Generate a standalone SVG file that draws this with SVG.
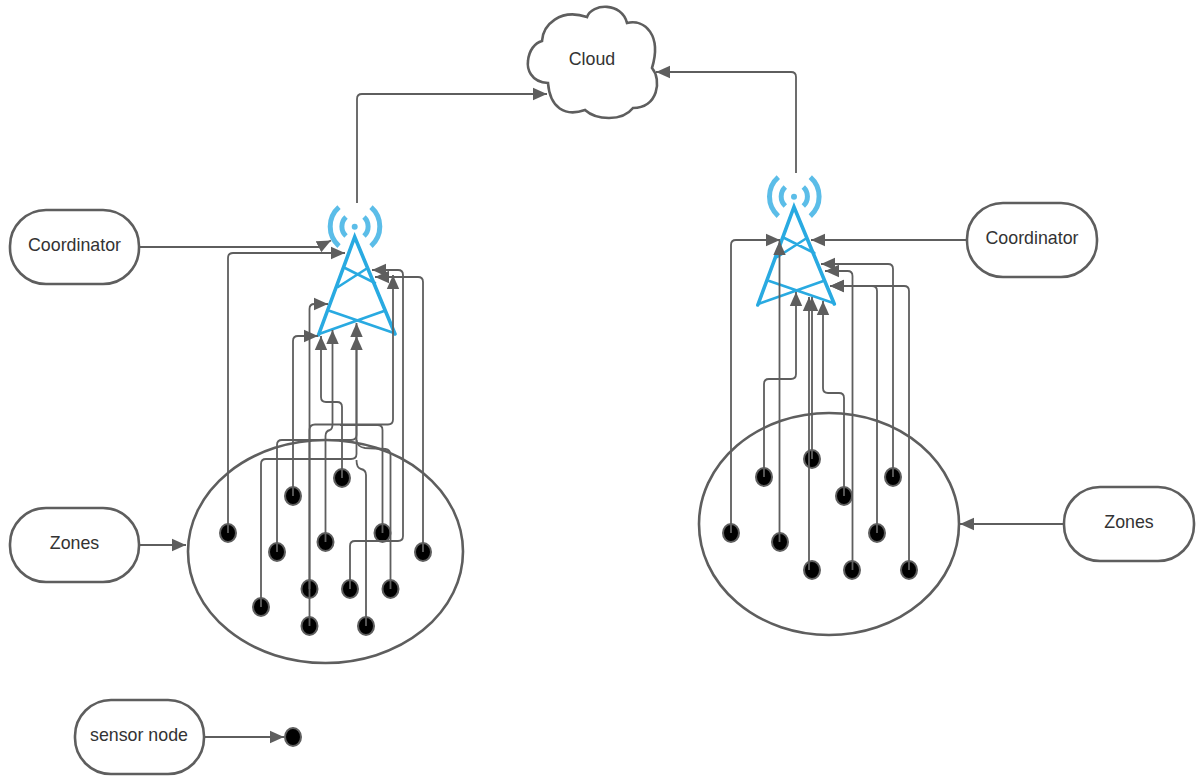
<svg xmlns="http://www.w3.org/2000/svg" width="1201" height="777" viewBox="0 0 1201 777">
<style>
.box,.zone,.cloud{fill:#fff;stroke:#5e5e5e;stroke-width:2.6}
.zone{fill:none}
.s{fill:#000;stroke:#5e5e5e;stroke-width:2}
.t{font-family:"Liberation Sans",Arial,sans-serif;font-size:17.8px;fill:#333;text-anchor:middle}
.c{fill:none;stroke:#5e5e5e;stroke-width:1.8;marker-end:url(#a)}
.n{fill:none;stroke:#5e5e5e;stroke-width:1.8}
.tw{fill:none;stroke:#29aae1;stroke-linecap:round}
.sig{fill:none;stroke:#5bbde8;stroke-width:5}
</style>
<defs>
<marker id="a" markerUnits="userSpaceOnUse" markerWidth="15" markerHeight="14" refX="14" refY="7" orient="auto"><path d="M0,0.8 L14,7 L0,13.2 Z" fill="#5e5e5e"/></marker>
<g id="tower">
<circle cx="354.7" cy="226.7" r="3" fill="#5bbde8"/>
<path class="sig" d="M346,217 A13,13 0 0 0 346,236 M364,217 A13,13 0 0 1 364,236"/>
<path class="sig" d="M339,207 A26,26 0 0 0 339,246 M371,207 A26,26 0 0 1 371,246"/>
<path class="tw" stroke-width="3.6" d="M318.5,335 L354.7,237 L395,334"/>
<path class="tw" stroke-width="2.6" d="M345,268 L375,283 M338,287 L366,269 M330,311 L394,333 M319,334 L384,311"/>
</g>
</defs>
<g id="zone-left"><ellipse class="zone" cx="325.5" cy="551.5" rx="137.5" ry="111.5"/></g>
<g id="zone-right"><ellipse class="zone" cx="829" cy="524" rx="130" ry="111"/></g>
<g id="cloud"><path class="cloud" d="M548,83 C530,82 527,68 528,61 C529,50 535,43 542,41 C543,25 560,8 587,17 C592,3 622,2 627,23 C645,19 662,35 652,68 C662,80 658,108 633,108 C622,122 596,120 585,110 C565,117 550,108 548,83 Z"/><text class="t" x="592" y="65">Cloud</text></g>
<g id="tower-left"><use href="#tower"/></g>
<g id="tower-right"><use href="#tower" transform="translate(439.3,-30)"/></g>
<g id="coordinator-left"><rect class="box" x="10" y="210" width="129" height="74" rx="36"/><text class="t" x="74.500" y="251">Coordinator</text></g>
<g id="coordinator-right"><rect class="box" x="967" y="203" width="130" height="74" rx="36"/><text class="t" x="1032" y="244">Coordinator</text></g>
<g id="zones-left"><rect class="box" x="10" y="508" width="129" height="74" rx="36"/><text class="t" x="74.500" y="549">Zones</text></g>
<g id="zones-right"><rect class="box" x="1064" y="487" width="130" height="74" rx="36"/><text class="t" x="1129" y="528">Zones</text></g>
<g id="sensor-legend"><rect class="box" x="75" y="700" width="129" height="74" rx="36"/><text class="t" x="139" y="741">sensor node</text><ellipse class="s" cx="293" cy="737" rx="8" ry="9"/></g>
<g id="sensors-left">
<ellipse class="s" cx="228" cy="533" rx="8" ry="9"/><ellipse class="s" cx="293" cy="496" rx="8" ry="9"/><ellipse class="s" cx="342" cy="478" rx="8" ry="9"/><ellipse class="s" cx="277" cy="552" rx="8" ry="9"/><ellipse class="s" cx="325.500" cy="542" rx="8" ry="9"/><ellipse class="s" cx="382.500" cy="533" rx="8" ry="9"/><ellipse class="s" cx="423" cy="552" rx="8" ry="9"/><ellipse class="s" cx="309.500" cy="589" rx="8" ry="9"/><ellipse class="s" cx="350" cy="589" rx="8" ry="9"/><ellipse class="s" cx="390.500" cy="589" rx="8" ry="9"/><ellipse class="s" cx="261" cy="607" rx="8" ry="9"/><ellipse class="s" cx="309.500" cy="626" rx="8" ry="9"/><ellipse class="s" cx="366" cy="626" rx="8" ry="9"/>
</g>
<g id="sensors-right">
<ellipse class="s" cx="731" cy="533" rx="8" ry="9"/><ellipse class="s" cx="764" cy="477" rx="8" ry="9"/><ellipse class="s" cx="812" cy="459" rx="8" ry="9"/><ellipse class="s" cx="780" cy="542" rx="8" ry="9"/><ellipse class="s" cx="844" cy="496" rx="8" ry="9"/><ellipse class="s" cx="893" cy="477" rx="8" ry="9"/><ellipse class="s" cx="877" cy="533" rx="8" ry="9"/><ellipse class="s" cx="812" cy="570" rx="8" ry="9"/><ellipse class="s" cx="852" cy="570" rx="8" ry="9"/><ellipse class="s" cx="909" cy="570" rx="8" ry="9"/>
</g>
<g id="connectors">
<path class="c" d="M357,203 V99 Q357,94 362,94 H547"/>
<path class="c" d="M796,173 V77 Q796,72 791,72 H656"/>
<path class="n" d="M139,247 H319"/><path class="c" d="M318,247 L331,240.500"/>
<path class="c" d="M967,240 H811"/>
<path class="c" d="M139,545 H186"/>
<path class="c" d="M1064,524 H960"/>
<path class="c" d="M204,737 H284"/>
<path class="c" d="M228,533 V258 Q228,253 233,253 H345"/>
<path class="c" d="M293,496 V341 Q293,336 298,336 H318"/>
<path class="c" d="M342,478 V407 Q342,402 337,402 H326 Q321,402 321,397 V336"/>
<path class="c" d="M277,552 V445 Q277,440 282,440 H351 Q356.500,440 356.500,435 V323"/>
<path class="c" d="M261,607 V464 Q261,459 266,459 H351 Q356.500,459 356.500,454 V336"/>
<path class="c" d="M325.500,542 V436 Q325.500,431 330,430 Q332.500,429 332.500,424 V330"/>
<path class="n" d="M382.500,533 V430 Q382.500,425 377.500,425 H340"/>
<path class="c" d="M309.500,589 V309 Q309.500,304 314.500,304 H328"/>
<path class="c" d="M309.500,626 V430 Q309.500,424.500 315,424.500 H388 Q393,424.500 393,419.500 V275"/>
<path class="c" d="M350,589 V546 Q350,541 355,541 H398 Q403,541 403,536 V275 Q403,270 398,270 H372"/>
<path class="n" d="M390.500,589 V455 Q390.500,450 385.500,449 L365,448 Q357,447 356.500,440"/>
<path class="n" d="M366,626 V475 Q366,470 361,469 Q356.500,468 356.500,460"/>
<path class="c" d="M423,552 V282 Q423,277 418,277 H375"/>
<path class="c" d="M731,533 V245 Q731,240 736,240 H780"/>
<path class="c" d="M779.500,542 V241"/>
<path class="c" d="M764,477 V384 Q764,379 769,379 H791 Q796,379 796,374 V292"/>
<path class="c" d="M812,459 V297"/>
<path class="c" d="M809,570 V297"/>
<path class="c" d="M844,496 V398 Q844,393 839,393 H828 Q823,393 823,388 V301"/>
<path class="c" d="M852.500,570 V276 Q852.500,271 847.500,271 H825"/>
<path class="c" d="M877,533 V291 Q877,286 872,286 H830"/>
<path class="c" d="M893,477 V269 Q893,264 888,264 H821"/>
<path class="c" d="M909,570 V291 Q909,286 904,286 H830"/>
</g>
</svg>
